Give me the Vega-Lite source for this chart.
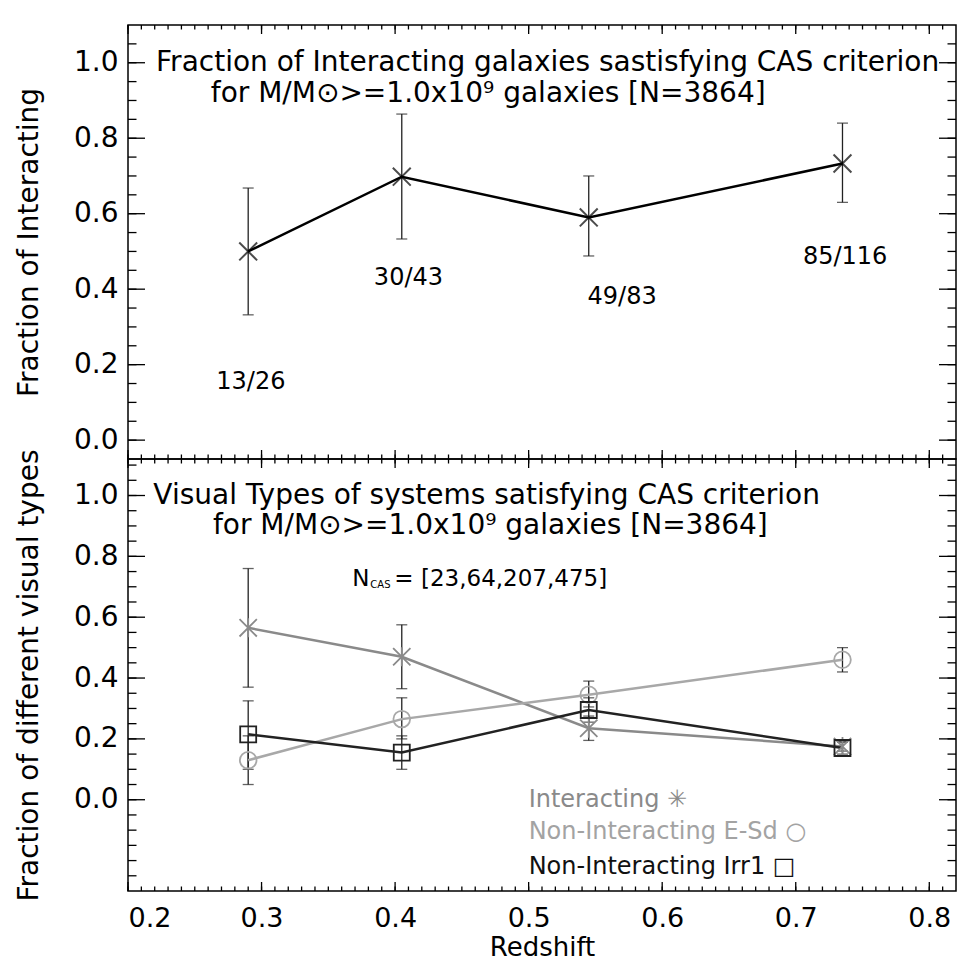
{
  "$schema": "https://vega.github.io/schema/vega-lite/v6.json",
  "background": "white",
  "padding": {"left": 14, "top": 23, "right": 13, "bottom": 0},
  "spacing": 0,
  "bounds": "flush",
  "config": {
    "view": {"stroke": "#000", "strokeWidth": 1.5},
    "axis": {"minExtent": 0, "domain": false, "grid": false, "ticks": false, "labelFont": "DejaVu Sans", "titleFont": "DejaVu Sans", "labelColor": "#000", "titleColor": "#000", "titleFontWeight": "normal"},
    "rule": {"color": "#000", "strokeWidth": 1.3},
    "text": {"font": "DejaVu Sans", "color": "#000"}
  },
  "datasets": {
    "top": [
      {"z": 0.29, "f": 0.5, "lo": 0.332, "hi": 0.668},
      {"z": 0.405, "f": 0.698, "lo": 0.533, "hi": 0.864},
      {"z": 0.545, "f": 0.59, "lo": 0.488, "hi": 0.70},
      {"z": 0.735, "f": 0.733, "lo": 0.63, "hi": 0.84}
    ],
    "topLab": [
      {"lx": 0.292, "ly": 0.155, "lab": "13/26"},
      {"lx": 0.41, "ly": 0.43, "lab": "30/43"},
      {"lx": 0.57, "ly": 0.38, "lab": "49/83"},
      {"lx": 0.737, "ly": 0.485, "lab": "85/116"}
    ],
    "bot": [
      {"s": "Interacting", "z": 0.29, "v": 0.565, "lo": 0.37, "hi": 0.76},
      {"s": "Interacting", "z": 0.405, "v": 0.47, "lo": 0.365, "hi": 0.575},
      {"s": "Interacting", "z": 0.545, "v": 0.235, "lo": 0.195, "hi": 0.275},
      {"s": "Interacting", "z": 0.735, "v": 0.175, "lo": 0.16, "hi": 0.19},
      {"s": "E-Sd", "z": 0.29, "v": 0.13, "lo": 0.05, "hi": 0.21},
      {"s": "E-Sd", "z": 0.405, "v": 0.265, "lo": 0.2, "hi": 0.335},
      {"s": "E-Sd", "z": 0.545, "v": 0.345, "lo": 0.305, "hi": 0.39},
      {"s": "E-Sd", "z": 0.735, "v": 0.46, "lo": 0.42, "hi": 0.5},
      {"s": "Irr1", "z": 0.29, "v": 0.215, "lo": 0.1, "hi": 0.325},
      {"s": "Irr1", "z": 0.405, "v": 0.155, "lo": 0.1, "hi": 0.21},
      {"s": "Irr1", "z": 0.545, "v": 0.295, "lo": 0.255, "hi": 0.335},
      {"s": "Irr1", "z": 0.735, "v": 0.17, "lo": 0.15, "hi": 0.19}
    ],
    "xMinor": [{"t": 0.2}, {"t": 0.21}, {"t": 0.22}, {"t": 0.23}, {"t": 0.24}, {"t": 0.25}, {"t": 0.26}, {"t": 0.27}, {"t": 0.28}, {"t": 0.29}, {"t": 0.3}, {"t": 0.31}, {"t": 0.32}, {"t": 0.33}, {"t": 0.34}, {"t": 0.35}, {"t": 0.36}, {"t": 0.37}, {"t": 0.38}, {"t": 0.39}, {"t": 0.4}, {"t": 0.41}, {"t": 0.42}, {"t": 0.43}, {"t": 0.44}, {"t": 0.45}, {"t": 0.46}, {"t": 0.47}, {"t": 0.48}, {"t": 0.49}, {"t": 0.5}, {"t": 0.51}, {"t": 0.52}, {"t": 0.53}, {"t": 0.54}, {"t": 0.55}, {"t": 0.56}, {"t": 0.57}, {"t": 0.58}, {"t": 0.59}, {"t": 0.6}, {"t": 0.61}, {"t": 0.62}, {"t": 0.63}, {"t": 0.64}, {"t": 0.65}, {"t": 0.66}, {"t": 0.67}, {"t": 0.68}, {"t": 0.69}, {"t": 0.7}, {"t": 0.71}, {"t": 0.72}, {"t": 0.73}, {"t": 0.74}, {"t": 0.75}, {"t": 0.76}, {"t": 0.77}, {"t": 0.78}, {"t": 0.79}, {"t": 0.8}, {"t": 0.81}],
    "xMajor": [{"t": 0.2}, {"t": 0.3}, {"t": 0.4}, {"t": 0.5}, {"t": 0.6}, {"t": 0.7}, {"t": 0.8}],
    "yMinorTop": [{"t": 0}, {"t": 0.05}, {"t": 0.1}, {"t": 0.15}, {"t": 0.2}, {"t": 0.25}, {"t": 0.3}, {"t": 0.35}, {"t": 0.4}, {"t": 0.45}, {"t": 0.5}, {"t": 0.55}, {"t": 0.6}, {"t": 0.65}, {"t": 0.7}, {"t": 0.75}, {"t": 0.8}, {"t": 0.85}, {"t": 0.9}, {"t": 0.95}, {"t": 1}, {"t": 1.05}],
    "yMinorBot": [{"t": -0.25}, {"t": -0.2}, {"t": -0.15}, {"t": -0.1}, {"t": -0.05}, {"t": 0}, {"t": 0.05}, {"t": 0.1}, {"t": 0.15}, {"t": 0.2}, {"t": 0.25}, {"t": 0.3}, {"t": 0.35}, {"t": 0.4}, {"t": 0.45}, {"t": 0.5}, {"t": 0.55}, {"t": 0.6}, {"t": 0.65}, {"t": 0.7}, {"t": 0.75}, {"t": 0.8}, {"t": 0.85}, {"t": 0.9}, {"t": 0.95}, {"t": 1}, {"t": 1.05}, {"t": 1.1}],
    "yMajor": [{"t": 0}, {"t": 0.2}, {"t": 0.4}, {"t": 0.6}, {"t": 0.8}, {"t": 1}]
  },
  "vconcat": [
    {
      "width": 828,
      "height": 434,
      "layer": [
        {
          "data": {"name": "top"},
          "mark": {"type": "rule", "color": "#222", "strokeWidth": 1.3},
          "encoding": {
            "x": {"field": "z", "type": "quantitative", "scale": {"domain": [0.2, 0.82], "nice": false, "zero": false}, "axis": null},
            "y": {"field": "lo", "type": "quantitative", "scale": {"domain": [-0.05, 1.1], "nice": false, "zero": false},
              "axis": {"orient": "left", "values": [0, 0.2, 0.4, 0.6, 0.8, 1], "format": ".1f", "ticks": false, "labelFontSize": 28, "labelPadding": 10, "title": "Fraction of Interacting", "titleFontSize": 28, "titlePadding": 30}},
            "y2": {"field": "hi"}
          }
        },
        {
          "data": {"name": "xMinor"}, "mark": {"type": "rule"},
          "encoding": {"x": {"field": "t", "type": "quantitative", "axis": null}, "y": {"datum": 1.1, "type": "quantitative"}, "y2": {"datum": 1.08808}}
        },
        {
          "data": {"name": "xMinor"}, "mark": {"type": "rule"},
          "encoding": {"x": {"field": "t", "type": "quantitative", "axis": null}, "y": {"datum": -0.05, "type": "quantitative"}, "y2": {"datum": -0.03808}}
        },
        {
          "data": {"name": "xMajor"}, "mark": {"type": "rule"},
          "encoding": {"x": {"field": "t", "type": "quantitative", "axis": null}, "y": {"datum": 1.1, "type": "quantitative"}, "y2": {"datum": 1.07615}}
        },
        {
          "data": {"name": "xMajor"}, "mark": {"type": "rule"},
          "encoding": {"x": {"field": "t", "type": "quantitative", "axis": null}, "y": {"datum": -0.05, "type": "quantitative"}, "y2": {"datum": -0.02615}}
        },
        {
          "data": {"name": "yMinorTop"}, "mark": {"type": "rule"},
          "encoding": {"y": {"field": "t", "type": "quantitative"}, "x": {"datum": 0.2, "type": "quantitative", "axis": null}, "x2": {"datum": 0.206365}}
        },
        {
          "data": {"name": "yMinorTop"}, "mark": {"type": "rule"},
          "encoding": {"y": {"field": "t", "type": "quantitative"}, "x": {"datum": 0.82, "type": "quantitative", "axis": null}, "x2": {"datum": 0.813635}}
        },
        {
          "data": {"name": "yMajor"}, "mark": {"type": "rule"},
          "encoding": {"y": {"field": "t", "type": "quantitative"}, "x": {"datum": 0.2, "type": "quantitative", "axis": null}, "x2": {"datum": 0.21273}}
        },
        {
          "data": {"name": "yMajor"}, "mark": {"type": "rule"},
          "encoding": {"y": {"field": "t", "type": "quantitative"}, "x": {"datum": 0.82, "type": "quantitative", "axis": null}, "x2": {"datum": 0.80727}}
        },
        {
          "data": {"name": "top"},
          "mark": {"type": "tick", "orient": "horizontal", "color": "#222", "size": 11, "thickness": 1.3},
          "encoding": {"x": {"field": "z", "type": "quantitative", "axis": null}, "y": {"field": "lo", "type": "quantitative"}}
        },
        {
          "data": {"name": "top"},
          "mark": {"type": "tick", "orient": "horizontal", "color": "#222", "size": 11, "thickness": 1.3},
          "encoding": {"x": {"field": "z", "type": "quantitative", "axis": null}, "y": {"field": "hi", "type": "quantitative"}}
        },
        {
          "data": {"name": "top"},
          "mark": {"type": "line", "color": "#000", "strokeWidth": 2.5},
          "encoding": {"x": {"field": "z", "type": "quantitative", "axis": null}, "y": {"field": "f", "type": "quantitative"}}
        },
        {
          "data": {"name": "top"},
          "mark": {"type": "point", "filled": false, "color": "#000", "strokeWidth": 2, "shape": "M-1,-1L1,1M-1,1L1,-1", "size": 320},
          "encoding": {"x": {"field": "z", "type": "quantitative", "axis": null}, "y": {"field": "f", "type": "quantitative"}}
        },
        {
          "data": {"name": "topLab"},
          "mark": {"type": "text", "fontSize": 24, "align": "center", "baseline": "middle"},
          "encoding": {
            "x": {"field": "lx", "type": "quantitative", "axis": null},
            "y": {"field": "ly", "type": "quantitative"},
            "text": {"field": "lab"}
          }
        },
        {
          "data": {"values": [{}]},
          "mark": {"type": "text", "fontSize": 28, "align": "left", "baseline": "middle", "text": "Fraction of Interacting galaxies sastisfying CAS criterion"},
          "encoding": {"x": {"datum": 0.221, "type": "quantitative", "axis": null}, "y": {"datum": 1.0, "type": "quantitative"}}
        },
        {
          "data": {"values": [{}]},
          "mark": {"type": "text", "fontSize": 28, "align": "left", "baseline": "middle", "text": "for M/M⊙>=1.0x10⁹  galaxies [N=3864]"},
          "encoding": {"x": {"datum": 0.262, "type": "quantitative", "axis": null}, "y": {"datum": 0.918, "type": "quantitative"}}
        }
      ]
    },
    {
      "width": 828,
      "height": 432,
      "layer": [
        {
          "data": {"name": "bot"},
          "mark": {"type": "rule", "color": "#222", "strokeWidth": 1.3},
          "encoding": {
            "x": {"field": "z", "type": "quantitative", "scale": {"domain": [0.2, 0.82], "nice": false, "zero": false},
              "axis": {"orient": "bottom", "values": [0.2, 0.3, 0.4, 0.5, 0.6, 0.7, 0.8], "format": ".1f", "ticks": false, "labelFontSize": 27, "labelPadding": 14, "title": "Redshift", "titleFontSize": 26, "titlePadding": 3}},
            "y": {"field": "lo", "type": "quantitative", "scale": {"domain": [-0.3, 1.12], "nice": false, "zero": false},
              "axis": {"orient": "left", "values": [0, 0.2, 0.4, 0.6, 0.8, 1], "format": ".1f", "ticks": false, "labelFontSize": 28, "labelPadding": 10, "title": "Fraction of different visual types", "titleFontSize": 28, "titlePadding": 30}},
            "y2": {"field": "hi"}
          }
        },
        {
          "data": {"name": "xMinor"}, "mark": {"type": "rule"},
          "encoding": {"x": {"field": "t", "type": "quantitative"}, "y": {"datum": 1.12, "type": "quantitative"}, "y2": {"datum": 1.10521}}
        },
        {
          "data": {"name": "xMinor"}, "mark": {"type": "rule"},
          "encoding": {"x": {"field": "t", "type": "quantitative"}, "y": {"datum": -0.3, "type": "quantitative"}, "y2": {"datum": -0.28521}}
        },
        {
          "data": {"name": "xMajor"}, "mark": {"type": "rule"},
          "encoding": {"x": {"field": "t", "type": "quantitative"}, "y": {"datum": 1.12, "type": "quantitative"}, "y2": {"datum": 1.09042}}
        },
        {
          "data": {"name": "xMajor"}, "mark": {"type": "rule"},
          "encoding": {"x": {"field": "t", "type": "quantitative"}, "y": {"datum": -0.3, "type": "quantitative"}, "y2": {"datum": -0.27042}}
        },
        {
          "data": {"name": "yMinorBot"}, "mark": {"type": "rule"},
          "encoding": {"y": {"field": "t", "type": "quantitative"}, "x": {"datum": 0.2, "type": "quantitative"}, "x2": {"datum": 0.206365}}
        },
        {
          "data": {"name": "yMinorBot"}, "mark": {"type": "rule"},
          "encoding": {"y": {"field": "t", "type": "quantitative"}, "x": {"datum": 0.82, "type": "quantitative"}, "x2": {"datum": 0.813635}}
        },
        {
          "data": {"name": "yMajor"}, "mark": {"type": "rule"},
          "encoding": {"y": {"field": "t", "type": "quantitative"}, "x": {"datum": 0.2, "type": "quantitative"}, "x2": {"datum": 0.21273}}
        },
        {
          "data": {"name": "yMajor"}, "mark": {"type": "rule"},
          "encoding": {"y": {"field": "t", "type": "quantitative"}, "x": {"datum": 0.82, "type": "quantitative"}, "x2": {"datum": 0.80727}}
        },
        {
          "data": {"name": "bot"},
          "mark": {"type": "tick", "orient": "horizontal", "color": "#222", "size": 11, "thickness": 1.3},
          "encoding": {"x": {"field": "z", "type": "quantitative"}, "y": {"field": "lo", "type": "quantitative"}}
        },
        {
          "data": {"name": "bot"},
          "mark": {"type": "tick", "orient": "horizontal", "color": "#222", "size": 11, "thickness": 1.3},
          "encoding": {"x": {"field": "z", "type": "quantitative"}, "y": {"field": "hi", "type": "quantitative"}}
        },
        {
          "data": {"name": "bot"},
          "mark": {"type": "line", "strokeWidth": 2.5},
          "encoding": {
            "x": {"field": "z", "type": "quantitative"},
            "y": {"field": "v", "type": "quantitative"},
            "color": {"field": "s", "type": "nominal", "legend": null, "scale": {"domain": ["Interacting", "E-Sd", "Irr1"], "range": ["#8a8a8a", "#a8a8a8", "#222222"]}}
          }
        },
        {
          "data": {"name": "bot"},
          "mark": {"type": "point", "filled": false, "strokeWidth": 1.8, "opacity": 1},
          "encoding": {
            "x": {"field": "z", "type": "quantitative"},
            "y": {"field": "v", "type": "quantitative"},
            "color": {"field": "s", "type": "nominal", "legend": null, "scale": {"domain": ["Interacting", "E-Sd", "Irr1"], "range": ["#8a8a8a", "#a8a8a8", "#222222"]}},
            "shape": {"field": "s", "type": "nominal", "legend": null, "scale": {"domain": ["Interacting", "E-Sd", "Irr1"], "range": ["M-1,-1L1,1M-1,1L1,-1M0,-1.1L0,1.1", "circle", "square"]}},
            "size": {"field": "s", "type": "nominal", "legend": null, "scale": {"domain": ["Interacting", "E-Sd", "Irr1"], "range": [300, 256, 196]}}
          }
        },
        {
          "data": {"values": [{}]},
          "mark": {"type": "text", "fontSize": 28, "align": "left", "baseline": "middle", "text": "Visual Types of systems satisfying CAS criterion"},
          "encoding": {"x": {"datum": 0.219, "type": "quantitative"}, "y": {"datum": 1.0, "type": "quantitative"}}
        },
        {
          "data": {"values": [{}]},
          "mark": {"type": "text", "fontSize": 28, "align": "left", "baseline": "middle", "text": "for M/M⊙>=1.0x10⁹  galaxies [N=3864]"},
          "encoding": {"x": {"datum": 0.2636, "type": "quantitative"}, "y": {"datum": 0.9, "type": "quantitative"}}
        },
        {
          "data": {"values": [{}]},
          "mark": {"type": "text", "fontSize": 23, "align": "left", "baseline": "middle", "text": "N"},
          "encoding": {"x": {"datum": 0.368, "type": "quantitative"}, "y": {"datum": 0.727, "type": "quantitative"}}
        },
        {
          "data": {"values": [{}]},
          "mark": {"type": "text", "fontSize": 10, "align": "left", "baseline": "middle", "dx": 18, "dy": 6, "text": "CAS"},
          "encoding": {"x": {"datum": 0.368, "type": "quantitative"}, "y": {"datum": 0.727, "type": "quantitative"}}
        },
        {
          "data": {"values": [{}]},
          "mark": {"type": "text", "fontSize": 23, "align": "left", "baseline": "middle", "dx": 42, "text": "= [23,64,207,475]"},
          "encoding": {"x": {"datum": 0.368, "type": "quantitative"}, "y": {"datum": 0.727, "type": "quantitative"}}
        },
        {
          "data": {"values": [{}]},
          "mark": {"type": "text", "fontSize": 24, "align": "left", "baseline": "middle", "color": "#8a8a8a", "text": "Interacting ✳"},
          "encoding": {"x": {"datum": 0.5, "type": "quantitative"}, "y": {"datum": 0.0, "type": "quantitative"}}
        },
        {
          "data": {"values": [{}]},
          "mark": {"type": "text", "fontSize": 24, "align": "left", "baseline": "middle", "color": "#a3a3a3", "text": "Non-Interacting E-Sd ○"},
          "encoding": {"x": {"datum": 0.5, "type": "quantitative"}, "y": {"datum": -0.105, "type": "quantitative"}}
        },
        {
          "data": {"values": [{}]},
          "mark": {"type": "text", "fontSize": 24, "align": "left", "baseline": "middle", "color": "#111", "text": "Non-Interacting Irr1 □"},
          "encoding": {"x": {"datum": 0.5, "type": "quantitative"}, "y": {"datum": -0.22, "type": "quantitative"}}
        }
      ]
    }
  ]
}
